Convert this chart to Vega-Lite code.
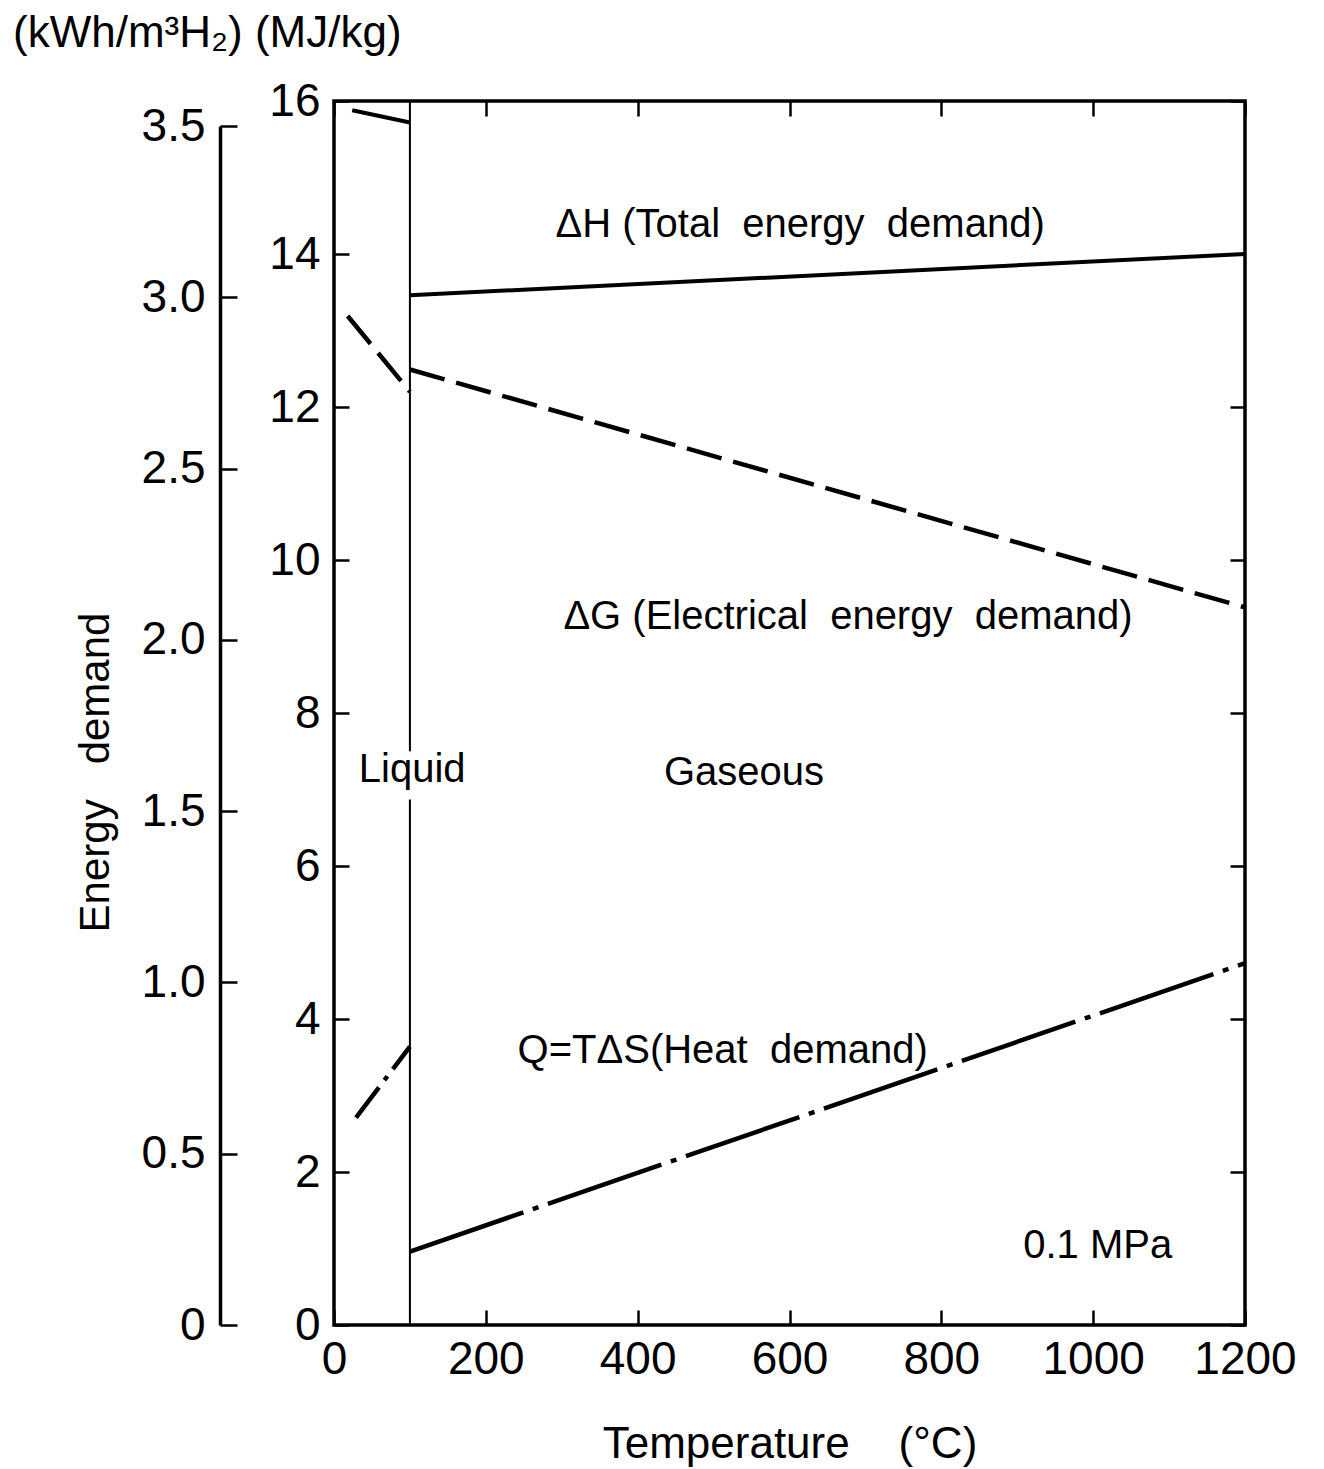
{
  "$schema": "https://vega.github.io/schema/vega-lite/v6.json",
  "width": 911,
  "height": 1224,
  "autosize": {"type": "none"},
  "padding": {"left": 334, "top": 101, "right": 79, "bottom": 144},
  "background": "white",
  "config": {
    "font": "Liberation Sans Narrow, Liberation Sans, sans-serif",
    "view": {"stroke": "black", "strokeWidth": 3.5},
    "axis": {"labelColor": "black", "tickColor": "black", "domainColor": "black", "titleColor": "black", "titleFontWeight": "normal", "grid": false, "labelOverlap": false, "labelFlush": false}
  },
  "title": {
    "text": "(kWh/m³H₂) (MJ/kg)",
    "anchor": "start",
    "frame": "group",
    "font": "Liberation Sans, sans-serif",
    "fontSize": 44,
    "fontWeight": "normal",
    "color": "black",
    "dx": -321,
    "offset": 22
  },
  "datasets": {
    "curves": [
      {"s": "H", "seg": "liquid", "T": 24, "E": 15.88},
      {"s": "H", "seg": "liquid", "T": 100, "E": 15.72},
      {"s": "H", "seg": "gas", "T": 100, "E": 13.46},
      {"s": "H", "seg": "gas", "T": 1200, "E": 14.0},
      {"s": "G", "seg": "liquid", "T": 18, "E": 13.19},
      {"s": "G", "seg": "liquid", "T": 100, "E": 12.2},
      {"s": "G", "seg": "gas", "T": 100, "E": 12.49},
      {"s": "G", "seg": "gas", "T": 1200, "E": 9.38},
      {"s": "Q", "seg": "liquid", "T": 29, "E": 2.71},
      {"s": "Q", "seg": "liquid", "T": 100, "E": 3.64},
      {"s": "Q", "seg": "gas", "T": 100, "E": 0.96},
      {"s": "Q", "seg": "gas", "T": 1200, "E": 4.73}
    ],
    "phase": [
      {"T": 100, "E": 0, "E2": 6.87},
      {"T": 100, "E": 7.5, "E2": 16}
    ],
    "labels": [
      {"T": 614, "E": 14.22, "label": "ΔH (Total\u00a0 energy\u00a0 demand)"},
      {"T": 677, "E": 9.1, "label": "ΔG (Electrical\u00a0 energy\u00a0 demand)"},
      {"T": 512, "E": 3.42, "label": "Q=TΔS(Heat\u00a0 demand)"},
      {"T": 103, "E": 7.1, "label": "Liquid"},
      {"T": 540, "E": 7.06, "label": "Gaseous"},
      {"T": 1006, "E": 0.88, "label": "0.1 MPa"}
    ],
    "kwh": [
      {"K": 0},
      {"K": 3.5}
    ]
  },
  "resolve": {"scale": {"y": "independent"}, "axis": {"x": "independent", "y": "independent"}},
  "layer": [
    {
      "encoding": {
        "x": {
          "field": "T", "type": "quantitative",
          "scale": {"domain": [0, 1200], "nice": false},
          "axis": {
            "orient": "bottom", "values": [0, 200, 400, 600, 800, 1000, 1200], "format": "d",
            "domain": false, "tickSize": -15, "tickWidth": 2.5, "labelPadding": 27,
            "labelFontSize": 46, "title": "Temperature\u00a0\u00a0\u00a0 (°C)", "titleFontSize": 44, "titlePadding": 40
          }
        },
        "y": {
          "field": "E", "type": "quantitative",
          "scale": {"domain": [0, 16], "nice": false},
          "axis": {
            "orient": "left", "values": [0, 2, 4, 6, 8, 10, 12, 14, 16], "format": "d",
            "domain": false, "tickSize": -15, "tickWidth": 2.5, "labelPadding": 29,
            "labelFontSize": 46, "title": null
          }
        }
      },
      "layer": [
        {
          "data": {"name": "phase"},
          "mark": {"type": "rule", "color": "black", "strokeWidth": 2},
          "encoding": {"y2": {"field": "E2"}}
        },
        {
          "data": {"name": "curves"},
          "transform": [{"filter": "datum.s == 'H'"}],
          "mark": {"type": "line", "color": "black", "strokeWidth": 4},
          "encoding": {"detail": {"field": "seg"}}
        },
        {
          "data": {"name": "curves"},
          "transform": [{"filter": "datum.s == 'G'"}],
          "mark": {"type": "line", "color": "black", "strokeWidth": 4.5, "strokeDash": [36, 12]},
          "encoding": {"detail": {"field": "seg"}}
        },
        {
          "data": {"name": "curves"},
          "transform": [{"filter": "datum.s == 'Q' && datum.seg == 'gas'"}],
          "mark": {"type": "line", "color": "black", "strokeWidth": 4.5, "strokeDash": [120, 10, 6, 10]},
          "encoding": {}
        },
        {
          "data": {"name": "curves"},
          "transform": [{"filter": "datum.s == 'Q' && datum.seg == 'liquid'"}],
          "mark": {"type": "line", "color": "black", "strokeWidth": 4.5, "strokeDash": [38, 9, 5, 9]},
          "encoding": {}
        },
        {
          "data": {"name": "labels"},
          "mark": {"type": "text", "fontSize": 40, "align": "center", "baseline": "alphabetic", "color": "black"},
          "encoding": {"text": {"field": "label"}}
        }
      ]
    },
    {
      "data": {"name": "curves"},
      "mark": {"type": "point", "opacity": 0},
      "encoding": {
        "x": {
          "field": "T", "type": "quantitative",
          "scale": {"domain": [0, 1200], "nice": false},
          "axis": {"orient": "top", "values": [0, 200, 400, 600, 800, 1000, 1200], "domain": false, "labels": false, "tickSize": -15, "tickWidth": 2.5, "title": null}
        },
        "y": {
          "field": "E", "type": "quantitative",
          "scale": {"domain": [0, 16], "nice": false},
          "axis": {"orient": "right", "values": [0, 2, 4, 6, 8, 10, 12, 14, 16], "domain": false, "labels": false, "tickSize": -15, "tickWidth": 2.5, "title": null}
        }
      }
    },
    {
      "data": {"name": "kwh"},
      "mark": {"type": "point", "opacity": 0},
      "encoding": {
        "y": {
          "field": "K", "type": "quantitative",
          "scale": {"domain": [0, 3.5], "nice": false, "range": [1224, 25]},
          "axis": {
            "orient": "left", "offset": 114, "values": [0, 0.5, 1, 1.5, 2, 2.5, 3, 3.5],
            "labelExpr": "datum.value == 0 ? '0' : format(datum.value, '.1f')",
            "domain": true, "domainWidth": 3.5, "tickSize": -17, "tickWidth": 2.5, "labelPadding": 32,
            "labelFontSize": 46, "title": "Energy\u00a0\u00a0 demand", "titleFontSize": 42, "titlePadding": 24, "titleY": 671
          }
        }
      }
    }
  ]
}
